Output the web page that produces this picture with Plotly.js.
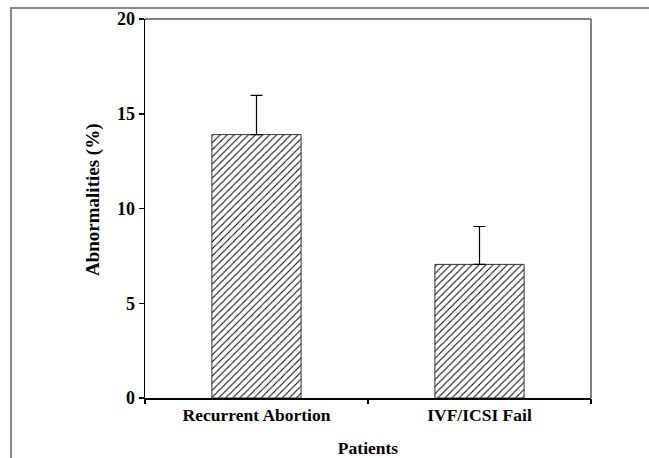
<!DOCTYPE html>
<html>
<head>
<meta charset="utf-8">
<script src="https://cdn.plot.ly/plotly-3.0.1.min.js"></script>
<style>
html,body{margin:0;padding:0;background:#fff;}
#wrap{position:relative;width:649px;height:458px;}
#chart{position:absolute;left:0;top:0;width:649px;height:458px;}
#frame{position:absolute;left:10px;top:7px;width:639px;height:451px;border-left:2px solid #888;border-top:2px solid #888;box-sizing:border-box;pointer-events:none;}
</style>
</head>
<body>
<div id="wrap"><div id="chart"></div><div id="frame"></div></div>
<script>
const categories = ["Recurrent Abortion", "IVF/ICSI Fail"];
const values = [13.9, 7.05];
const errors = [2.07, 2.0];
const yTicks = [0, 5, 10, 15, 20];
const xTitle = "Patients";
const yTitle = "Abnormalities (%)";

const fam = "Liberation Serif, Times New Roman, serif";

const trace = {
  type: "bar",
  x: categories,
  y: values,
  width: 0.4,
  marker: {
    color: "#fff",
    line: {color: "#333", width: 1},
    pattern: {shape: "/", fgcolor: "#000", bgcolor: "#fff", size: 5, solidity: 0.2}
  },
  error_y: {type: "data", array: errors, symmetric: false, arrayminus: [0, 0], color: "#000", thickness: 1.2, width: 6},
  hoverinfo: "skip"
};

const layout = {
  width: 649, height: 458,
  margin: {l: 145, r: 58, t: 19, b: 60},
  paper_bgcolor: "#fff", plot_bgcolor: "#fff",
  font: {family: fam, size: 17, color: "#000"},
  showlegend: false,
  xaxis: {
    type: "category", range: [-0.5, 1.5],
    showline: true, linecolor: "#000", linewidth: 1.5,
    ticks: "", showgrid: false, zeroline: false,
    tickfont: {family: fam, size: 17.5, color: "#000", weight: "bold"},
    title: {text: "<b>" + xTitle + "</b>", font: {family: fam, size: 17.5, color: "#000"}, standoff: 18}
  },
  xaxis2: {
    overlaying: "x", range: [0, 2], tickvals: [0, 1, 2], ticktext: ["", "", ""],
    ticks: "outside", ticklen: 5, tickwidth: 1.5, tickcolor: "#000",
    showline: false, showgrid: false, zeroline: false, side: "bottom"
  },
  yaxis: {
    range: [0, 20], tickvals: yTicks, ticktext: yTicks.map(v => "<b>" + v + "</b>"),
    ticks: "outside", ticklen: 5, tickwidth: 1.5, tickcolor: "#000",
    showline: true, linecolor: "#000", linewidth: 1.5,
    showgrid: false, zeroline: false,
    tickfont: {family: fam, size: 18, color: "#000"}
  },
  annotations: [
    {text: "<b>" + yTitle + "</b>", xref: "paper", yref: "paper", x: -0.1166, y: 0.525,
     xanchor: "center", yanchor: "middle", textangle: -90, showarrow: false,
     font: {family: fam, size: 19, color: "#000"}}
  ],
  shapes: [
    {type: "line", xref: "paper", yref: "paper", x0: 0, x1: 1, y0: 1, y1: 1, line: {color: "#555", width: 1.5}},
    {type: "line", xref: "paper", yref: "paper", x0: 1, x1: 1, y0: 0, y1: 1, line: {color: "#555", width: 1.5}}
  ]
};

Plotly.newPlot("chart", [trace, {type: "scatter", x: [], y: [], xaxis: "x2", yaxis: "y", hoverinfo: "skip"}], layout, {displayModeBar: false, staticPlot: true});
</script>
</body>
</html>
